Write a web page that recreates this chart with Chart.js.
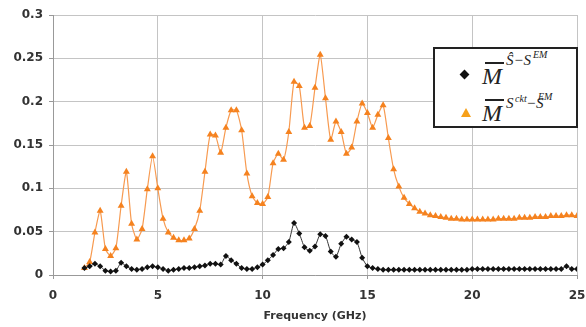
<!DOCTYPE html>
<html>
<head>
<meta charset="utf-8">
<script src="https://cdn.jsdelivr.net/npm/chart.js@4.4.0/dist/chart.umd.min.js"></script>
<style>
  html, body { margin: 0; padding: 0; background: #fff; }
  #wrap { position: relative; width: 586px; height: 327px; }
  #legendBox { position: absolute; left: 433px; top: 47px; width: 141px; height: 77px;
    border: 2px solid #222; background: #fff; }
  .lg { position: absolute; font-family: "Liberation Serif", "DejaVu Serif", serif; font-style: italic;
    color: #222; line-height: 1; white-space: nowrap; }
  .big { font-size: 24px; }
  .mid { font-size: 15px; }
  .sml { font-size: 10px; }
  .bar { position: absolute; height: 1.5px; background: #222; }
  .diamond { position: absolute; width: 7px; height: 7px; background: #111; transform: rotate(45deg); }
  .tri { position: absolute; width: 0; height: 0; border-left: 5px solid transparent;
    border-right: 5px solid transparent; border-bottom: 9px solid #f6a01a; }
</style>
</head>
<body>
<div id="wrap">
  <canvas id="plotCanvas" width="586" height="327"></canvas>
  <div id="legendBox"></div>
  <!-- row 1 -->
  <div class="diamond" style="left:461px; top:71px;"></div>
  <div class="bar" style="left:485px; top:62px; width:19px;"></div>
  <span class="lg big" style="left:482px; top:64px;">M</span>
  <span class="lg mid" style="left:506px; top:53px;">Ŝ−S</span>
  <span class="lg sml" style="left:533px; top:50px;">EM</span>
  <!-- row 2 -->
  <div class="tri" style="left:461px; top:108px;"></div>
  <div class="bar" style="left:485px; top:99px; width:19px;"></div>
  <span class="lg big" style="left:482px; top:101px;">M</span>
  <span class="lg mid" style="left:506px; top:96px;">S</span>
  <span class="lg sml" style="left:515px; top:94px;">ckt</span>
  <span class="lg mid" style="left:526px; top:96px;">−S</span>
  <span class="lg sml" style="left:538px; top:92px;">EM</span>
</div>
<script>
// --- Data ---
const freqGHz = [1.5, 1.75, 2, 2.25, 2.5, 2.75, 3, 3.25, 3.5, 3.75,
  4, 4.25, 4.5, 4.75, 5, 5.25, 5.5, 5.75, 6, 6.25,
  6.5, 6.75, 7, 7.25, 7.5, 7.75, 8, 8.25, 8.5, 8.75,
  9, 9.25, 9.5, 9.75, 10, 10.25, 10.5, 10.75, 11, 11.25,
  11.5, 11.75, 12, 12.25, 12.5, 12.75, 13, 13.25, 13.5, 13.75,
  14, 14.25, 14.5, 14.75, 15, 15.25, 15.5, 15.75, 16, 16.25,
  16.5, 16.75, 17, 17.25, 17.5, 17.75, 18, 18.25, 18.5, 18.75,
  19, 19.25, 19.5, 19.75, 20, 20.25, 20.5, 20.75, 21, 21.25,
  21.5, 21.75, 22, 22.25, 22.5, 22.75, 23, 23.25, 23.5, 23.75,
  24, 24.25, 24.5, 24.75, 25];

// M^{S^hat - S^EM}  (black diamonds)
const mHatEM = [0.008, 0.010, 0.013, 0.010, 0.005, 0.004, 0.005, 0.014, 0.010, 0.007,
  0.006, 0.007, 0.009, 0.010, 0.009, 0.007, 0.005, 0.006, 0.007, 0.008,
  0.008, 0.009, 0.010, 0.011, 0.013, 0.013, 0.012, 0.022, 0.017, 0.013,
  0.008, 0.007, 0.007, 0.009, 0.012, 0.017, 0.023, 0.030, 0.031, 0.038,
  0.060, 0.048, 0.032, 0.028, 0.033, 0.047, 0.045, 0.027, 0.021, 0.036,
  0.044, 0.041, 0.038, 0.020, 0.010, 0.008, 0.007, 0.006, 0.006, 0.006,
  0.006, 0.006, 0.006, 0.006, 0.006, 0.006, 0.006, 0.006, 0.006, 0.006,
  0.006, 0.006, 0.006, 0.006, 0.007, 0.007, 0.007, 0.007, 0.007, 0.007,
  0.007, 0.007, 0.007, 0.007, 0.007, 0.007, 0.007, 0.007, 0.007, 0.007,
  0.007, 0.007, 0.010, 0.007, 0.007];

// M^{S^ckt - S^EM}  (orange triangles)
const mCktEM = [0.008, 0.015, 0.049, 0.074, 0.030, 0.022, 0.031, 0.080, 0.119, 0.059,
  0.041, 0.053, 0.099, 0.137, 0.100, 0.065, 0.049, 0.043, 0.040, 0.040,
  0.042, 0.053, 0.074, 0.119, 0.162, 0.161, 0.141, 0.170, 0.190, 0.190,
  0.167, 0.117, 0.091, 0.083, 0.082, 0.090, 0.129, 0.140, 0.133, 0.165,
  0.223, 0.218, 0.170, 0.172, 0.216, 0.254, 0.204, 0.156, 0.177, 0.165,
  0.140, 0.147, 0.177, 0.198, 0.187, 0.170, 0.185, 0.196, 0.158, 0.122,
  0.102, 0.089, 0.082, 0.077, 0.073, 0.071, 0.069, 0.068, 0.067, 0.066,
  0.065, 0.065, 0.064, 0.064, 0.064, 0.064, 0.064, 0.064, 0.064, 0.065,
  0.065, 0.065, 0.065, 0.066, 0.066, 0.066, 0.067, 0.067, 0.067, 0.068,
  0.068, 0.068, 0.069, 0.069, 0.068];

const xTicks = [0, 5, 10, 15, 20, 25];
const yTicks = [0, 0.05, 0.1, 0.15, 0.2, 0.25, 0.3];

const toPoints = vals => freqGHz.map((f, i) => ({ x: f, y: vals[i] }));
const tickFont = { family: "DejaVu Sans", size: 12, weight: "bold" };

// pin the plot area: no automatic label overhang padding
const noOverhang = s => { s.paddingLeft = 0; s.paddingRight = 0; s.paddingTop = 0; s.paddingBottom = 0; };

new Chart(document.getElementById("plotCanvas").getContext("2d"), {
  type: "line",
  data: {
    datasets: [
      {
        label: "M S^hat-S^EM",
        data: toPoints(mHatEM),
        borderColor: "#333",
        backgroundColor: "#111",
        borderWidth: 1,
        pointStyle: "rectRot",
        pointRadius: 3,
        pointBorderWidth: 0,
        tension: 0.2
      },
      {
        label: "M S^ckt-S^EM",
        data: toPoints(mCktEM),
        borderColor: "#f79a50",
        backgroundColor: "#f5821f",
        borderWidth: 1.2,
        pointStyle: "triangle",
        pointRadius: 4,
        pointBorderWidth: 0,
        tension: 0.2
      }
    ]
  },
  options: {
    responsive: false,
    animation: false,
    layout: { padding: { top: 15, right: 9, bottom: 0, left: 0 } },
    plugins: { legend: { display: false }, tooltip: { enabled: false } },
    scales: {
      x: {
        type: "linear",
        min: 0, max: 25,
        afterBuildTicks: s => { s.ticks = xTicks.map(v => ({ value: v })); },
        afterFit: s => { s.height = 52; noOverhang(s); },
        ticks: { color: "#333", font: tickFont, padding: 10 },
        grid: { color: "#c4c4c4", tickLength: 4, tickColor: "#999" },
        border: { color: "#999" },
        title: {
          display: true, text: "Frequency (GHz)", color: "#333",
          font: { family: "DejaVu Sans", size: 11, weight: "bold" },
          padding: { top: 0, bottom: 4 }
        }
      },
      y: {
        min: 0, max: 0.3,
        afterBuildTicks: s => { s.ticks = yTicks.map(v => ({ value: v })); },
        afterFit: s => { s.width = 53; noOverhang(s); },
        ticks: { color: "#333", font: tickFont, padding: 6,
          callback: v => String(+Number(v).toFixed(2)) },
        grid: { color: "#c4c4c4", tickLength: 4, tickColor: "#999" },
        border: { color: "#999" }
      }
    }
  }
});
</script>
</body>
</html>
